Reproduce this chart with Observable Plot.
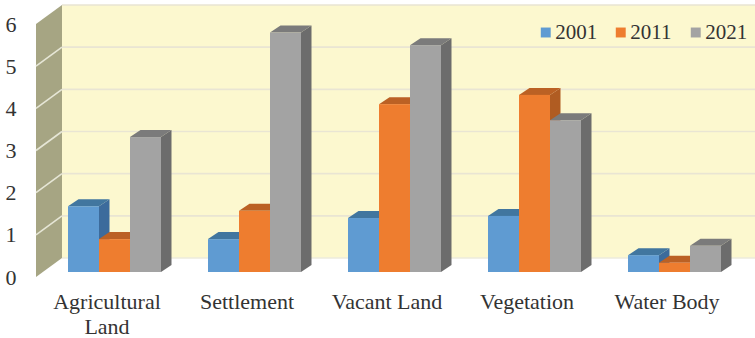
<!DOCTYPE html>
<html>
<head>
<meta charset="utf-8">
<script src="https://cdn.jsdelivr.net/npm/d3@7"></script>
<script src="https://cdn.jsdelivr.net/npm/@observablehq/plot@0.6"></script>
<style>
  html, body { margin: 0; padding: 0; background: #fff; }
  svg { display: block; }
</style>
</head>
<body>
<div id="chart"></div>
<script>
const categories = ["Agricultural\nLand", "Settlement", "Vacant Land", "Vegetation", "Water Body"];
const years = ["2001", "2011", "2021"];
const values2001 = [1.56, 0.78, 1.28, 1.33, 0.40];
const values2011 = [0.78, 1.45, 3.98, 4.20, 0.22];
const values2021 = [3.20, 5.68, 5.38, 3.60, 0.62];
const yTicks = [0, 1, 2, 3, 4, 5, 6];

const rows = categories.flatMap((category, i) => [
  {category, year: "2001", value: values2001[i]},
  {category, year: "2011", value: values2011[i]},
  {category, year: "2021", value: values2021[i]}
]);

const front = {"2001": "#5f9bd2", "2011": "#ee7d2f", "2021": "#a3a3a3"};
const side = {"2001": "#3c6b9c", "2011": "#b05c22", "2021": "#6c6c6c"};
const top_ = {"2001": "#41769f", "2011": "#bb6124", "2021": "#7b7b7b"};

const plotLeft = 43;

// Extrusion of each column, and of the chart box, in pixels.
const barDepth = [10.5, -7];
const wallBack = [19, -14];
const wallFront = [-7, 5];

const poly = (points, fill) => {
  const p = document.createElementNS("http://www.w3.org/2000/svg", "polygon");
  p.setAttribute("points", points.map((d) => d.join(",")).join(" "));
  p.setAttribute("fill", fill);
  return p;
};
const seg = (a, b, stroke, width) => {
  const l = document.createElementNS("http://www.w3.org/2000/svg", "line");
  l.setAttribute("x1", a[0]); l.setAttribute("y1", a[1]);
  l.setAttribute("x2", b[0]); l.setAttribute("y2", b[1]);
  l.setAttribute("stroke", stroke); l.setAttribute("stroke-width", width);
  return l;
};

// Back wall, left wall and their gridlines.
function walls(index, scales, values, dim) {
  const g = document.createElementNS("http://www.w3.org/2000/svg", "g");
  const xF = plotLeft + wallFront[0];
  const xB = plotLeft + wallBack[0];
  const yF = (v) => scales.y(v) + wallFront[1];
  const yB = (v) => scales.y(v) + wallBack[1];
  g.append(poly([[xB, yB(6)], [dim.width, yB(6)], [dim.width, yB(0)], [xB, yB(0)]], "#fcf8cf"));
  g.append(poly([[xF, yF(0)], [xB, yB(0)], [xB, yB(6)], [xF, yF(6)]], "#a6a583"));
  for (const v of yTicks) {
    g.append(seg([xB, yB(v)], [dim.width, yB(v)], v === 0 ? "#ecebdc" : "#e9e5d3", 1.6));
    if (v > 0 && v < 6) g.append(seg([xF, yF(v)], [xB, yB(v)], "#e6e6d6", 1.6));
  }
  return g;
}

// Top and side faces of the columns; the front faces are bars drawn above them.
function faces(index, scales) {
  const g = document.createElementNS("http://www.w3.org/2000/svg", "g");
  const [dx, dy] = barDepth;
  const bw = typeof scales.x.bandwidth === "function" ? scales.x.bandwidth() : scales.x.bandwidth;
  for (const d of rows) {
    const x0 = scales.fx(d.category) + scales.x(d.year) - plotLeft;
    const x1 = x0 + bw;
    const y0 = scales.y(0);
    const y1 = scales.y(d.value);
    g.append(poly([[x1, y1], [x1 + dx, y1 + dy], [x1 + dx, y0 + dy], [x1, y0]], side[d.year]));
    g.append(poly([[x0, y1], [x0 + dx, y1 + dy], [x1 + dx, y1 + dy], [x1, y1]], top_[d.year]));
  }
  return g;
}

const legendX = {"2001": 539, "2011": 614, "2021": 689};
const textStyle = {fontFamily: "Liberation Serif", fill: "#333333"};
const frameOrigin = 66.75;

const chart = Plot.plot({
  width: 755,
  height: 338,
  marginLeft: plotLeft,
  marginRight: 8.5,
  marginTop: 19,
  marginBottom: 66,
  style: {fontFamily: "Liberation Serif", fontSize: "22px", background: "#fff"},
  fx: {domain: categories, paddingInner: 0.338, paddingOuter: 0.169, label: null},
  x: {domain: years, padding: 0, axis: null},
  y: {domain: [0, 6], range: [272, 19], label: null},
  marks: [
    Plot.frame({facet: "super", stroke: "none", render: walls}),
    Plot.axisY({ticks: yTicks, tickFormat: "d", tickSize: 0, tickPadding: 52, dy: 5, label: null, fontSize: 22, ...textStyle}),
    Plot.axisFx({anchor: "bottom", tickSize: 0, tickPadding: 19, dx: -8, label: null, lineHeight: 1.14, fontSize: 22, ...textStyle}),
    Plot.frame({facet: "super", stroke: "none", render: faces}),
    Plot.barY(rows, {fx: "category", x: "year", y: "value", fill: (d) => front[d.year]}),
    ...years.flatMap((year) => [
      Plot.dot([year], {
        facet: "super", frameAnchor: "top-left", symbol: "square", r: 5.6, fill: front[year],
        dx: legendX[year] - frameOrigin + 5, dy: 32 - 19
      }),
      Plot.text([year], {
        facet: "super", frameAnchor: "top-left", text: (d) => d, textAnchor: "start", lineAnchor: "middle",
        dx: legendX[year] - frameOrigin + 14.5, dy: 32 - 19, fontSize: 21, ...textStyle
      })
    ])
  ]
});
document.getElementById("chart").append(chart);
</script>
</body>
</html>
